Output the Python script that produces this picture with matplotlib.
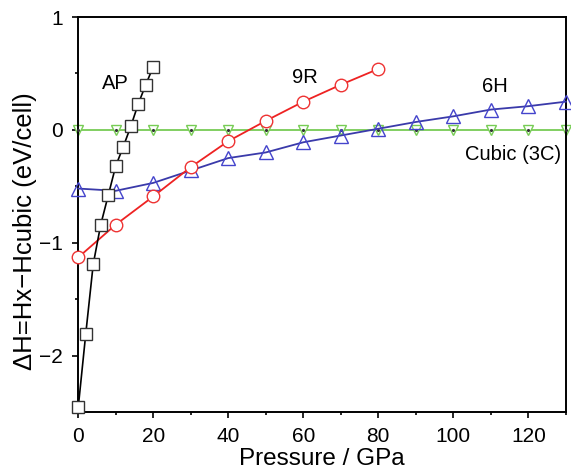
import numpy as np
import matplotlib
matplotlib.use('Agg')
import matplotlib.pyplot as plt
from matplotlib.ticker import MultipleLocator

plt.rcParams['font.family'] = ['Liberation Sans', 'DejaVu Sans']

# AP phase
ap_p = [0, 2, 4, 6, 8, 10, 12, 14, 16, 18, 20]
ap_dh = [-2.46, -1.81, -1.19, -0.84, -0.58, -0.32, -0.15, 0.03, 0.23, 0.40, 0.56]

# 9R phase
r9_p = [0, 10, 20, 30, 40, 50, 60, 70, 80]
r9_dh = [-1.13, -0.84, -0.59, -0.33, -0.10, 0.08, 0.25, 0.40, 0.54]

# 6H phase
h6_p = [0, 10, 20, 30, 40, 50, 60, 70, 80, 90, 100, 110, 120, 130]
h6_dh = [-0.52, -0.54, -0.47, -0.36, -0.25, -0.20, -0.11, -0.05, 0.01, 0.07,
         0.12, 0.18, 0.21, 0.25]

# cubic reference
c3_p = [0, 10, 20, 30, 40, 50, 60, 70, 80, 90, 100, 110, 120, 130]
c3_dh = [0, 0, 0, 0, 0, 0, 0, 0, 0, 0, 0, 0, 0, 0]

fig = plt.figure(figsize=(5.71, 4.73), dpi=100)
ax = fig.add_axes([0.137, 0.129, 0.854, 0.835])

ax.plot(c3_p, c3_dh, color='#77cc55', lw=1.3, marker='v', ms=7,
        mfc='white', mec='#77cc55', mew=1.0, zorder=2, clip_on=False)
ax.plot(c3_p, c3_dh, ls='none', marker='.', ms=2.5, color='#333333',
        zorder=3, clip_on=False)
ax.plot(h6_p, h6_dh, color='#3a3aaa', lw=1.3, marker='^', ms=9.5,
        mfc='none', mec='#4444cc', mew=1.0, zorder=4, clip_on=False)
ax.plot(r9_p, r9_dh, color='#ee2222', lw=1.3, marker='o', ms=9,
        mfc='white', mec='#ee3333', mew=1.0, zorder=5, clip_on=False)
ax.plot(ap_p, ap_dh, color='black', lw=1.2, marker='s', ms=8.2,
        mfc='white', mec='#333333', mew=1.0, zorder=6, clip_on=False)

ax.text(9.9, 0.41, 'AP', fontsize=14.5, ha='center', va='center')
ax.text(60.4, 0.46, '9R', fontsize=14.5, ha='center', va='center')
ax.text(111.2, 0.38, '6H', fontsize=14.5, ha='center', va='center')
ax.text(116, -0.22, 'Cubic (3C)', fontsize=14.5, ha='center', va='center')

ax.set_xlim(0, 130)
ax.set_ylim(-2.5, 1)
ax.xaxis.set_major_locator(MultipleLocator(20))
ax.xaxis.set_minor_locator(MultipleLocator(10))
ax.yaxis.set_major_locator(MultipleLocator(1))
ax.yaxis.set_minor_locator(MultipleLocator(0.5))
ax.tick_params(which='both', direction='out', top=False, right=False,
               labelsize=15, width=1.2, pad=7)
ax.tick_params(which='major', length=4)
ax.tick_params(which='minor', length=2.5)
for s in ax.spines.values():
    s.set_linewidth(1.4)

ax.set_xlabel('Pressure / GPa', fontsize=17.5, labelpad=1)
ax.set_ylabel('ΔH=Hx−Hcubic (eV/cell)', fontsize=18.5)
ax.yaxis.set_label_coords(-0.085, 0.457)

fig.savefig('out.png', dpi=100)
